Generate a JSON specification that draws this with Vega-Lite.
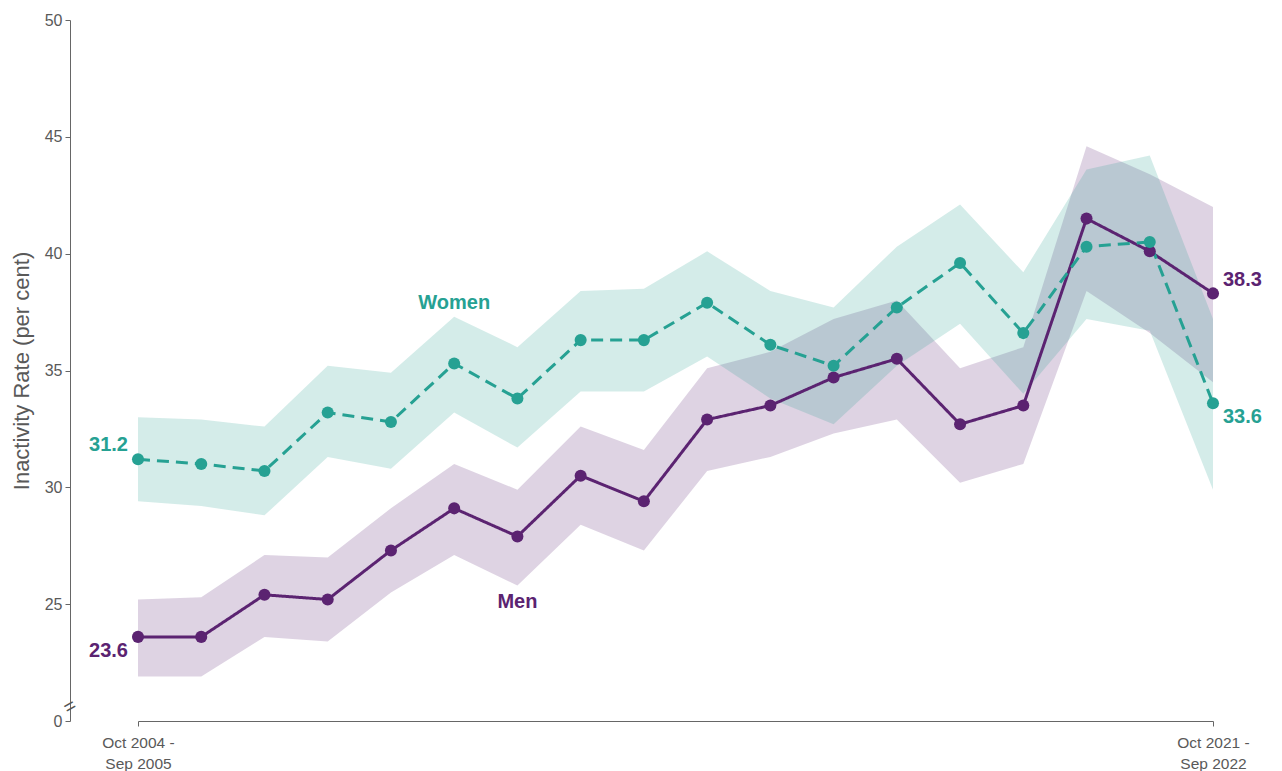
{
  "$schema": "https://vega.github.io/schema/vega-lite/v6.json",
  "width": 1210,
  "height": 701,
  "autosize": {"type": "none"},
  "padding": {"left": 70, "top": 20, "right": 2, "bottom": 50},
  "background": "white",
  "config": {"view": {"stroke": null}, "font": "Liberation Sans"},
  "datasets": {
    "main": [
      {"period": "Oct 2004 - Sep 2005", "series": "Men", "value": 23.6, "lo": 21.9, "hi": 25.2},
      {"period": "Oct 2005 - Sep 2006", "series": "Men", "value": 23.6, "lo": 21.9, "hi": 25.3},
      {"period": "Oct 2006 - Sep 2007", "series": "Men", "value": 25.4, "lo": 23.6, "hi": 27.1},
      {"period": "Oct 2007 - Sep 2008", "series": "Men", "value": 25.2, "lo": 23.4, "hi": 27.0},
      {"period": "Oct 2008 - Sep 2009", "series": "Men", "value": 27.3, "lo": 25.5, "hi": 29.1},
      {"period": "Oct 2009 - Sep 2010", "series": "Men", "value": 29.1, "lo": 27.1, "hi": 31.0},
      {"period": "Oct 2010 - Sep 2011", "series": "Men", "value": 27.9, "lo": 25.8, "hi": 29.9},
      {"period": "Oct 2011 - Sep 2012", "series": "Men", "value": 30.5, "lo": 28.4, "hi": 32.6},
      {"period": "Oct 2012 - Sep 2013", "series": "Men", "value": 29.4, "lo": 27.3, "hi": 31.6},
      {"period": "Oct 2013 - Sep 2014", "series": "Men", "value": 32.9, "lo": 30.7, "hi": 35.1},
      {"period": "Oct 2014 - Sep 2015", "series": "Men", "value": 33.5, "lo": 31.3, "hi": 35.8},
      {"period": "Oct 2015 - Sep 2016", "series": "Men", "value": 34.7, "lo": 32.3, "hi": 37.2},
      {"period": "Oct 2016 - Sep 2017", "series": "Men", "value": 35.5, "lo": 32.9, "hi": 38.0},
      {"period": "Oct 2017 - Sep 2018", "series": "Men", "value": 32.7, "lo": 30.2, "hi": 35.1},
      {"period": "Oct 2018 - Sep 2019", "series": "Men", "value": 33.5, "lo": 31.0, "hi": 36.0},
      {"period": "Oct 2019 - Sep 2020", "series": "Men", "value": 41.5, "lo": 38.4, "hi": 44.6},
      {"period": "Oct 2020 - Sep 2021", "series": "Men", "value": 40.1, "lo": 36.6, "hi": 43.4},
      {"period": "Oct 2021 - Sep 2022", "series": "Men", "value": 38.3, "lo": 34.5, "hi": 42.0},
      {"period": "Oct 2004 - Sep 2005", "series": "Women", "value": 31.2, "lo": 29.4, "hi": 33.0},
      {"period": "Oct 2005 - Sep 2006", "series": "Women", "value": 31.0, "lo": 29.2, "hi": 32.9},
      {"period": "Oct 2006 - Sep 2007", "series": "Women", "value": 30.7, "lo": 28.8, "hi": 32.6},
      {"period": "Oct 2007 - Sep 2008", "series": "Women", "value": 33.2, "lo": 31.3, "hi": 35.2},
      {"period": "Oct 2008 - Sep 2009", "series": "Women", "value": 32.8, "lo": 30.8, "hi": 34.9},
      {"period": "Oct 2009 - Sep 2010", "series": "Women", "value": 35.3, "lo": 33.2, "hi": 37.3},
      {"period": "Oct 2010 - Sep 2011", "series": "Women", "value": 33.8, "lo": 31.7, "hi": 36.0},
      {"period": "Oct 2011 - Sep 2012", "series": "Women", "value": 36.3, "lo": 34.1, "hi": 38.4},
      {"period": "Oct 2012 - Sep 2013", "series": "Women", "value": 36.3, "lo": 34.1, "hi": 38.5},
      {"period": "Oct 2013 - Sep 2014", "series": "Women", "value": 37.9, "lo": 35.6, "hi": 40.1},
      {"period": "Oct 2014 - Sep 2015", "series": "Women", "value": 36.1, "lo": 33.8, "hi": 38.4},
      {"period": "Oct 2015 - Sep 2016", "series": "Women", "value": 35.2, "lo": 32.7, "hi": 37.7},
      {"period": "Oct 2016 - Sep 2017", "series": "Women", "value": 37.7, "lo": 35.2, "hi": 40.3},
      {"period": "Oct 2017 - Sep 2018", "series": "Women", "value": 39.6, "lo": 37.0, "hi": 42.1},
      {"period": "Oct 2018 - Sep 2019", "series": "Women", "value": 36.6, "lo": 34.0, "hi": 39.2},
      {"period": "Oct 2019 - Sep 2020", "series": "Women", "value": 40.3, "lo": 37.2, "hi": 43.6},
      {"period": "Oct 2020 - Sep 2021", "series": "Women", "value": 40.5, "lo": 36.7, "hi": 44.2},
      {"period": "Oct 2021 - Sep 2022", "series": "Women", "value": 33.6, "lo": 29.9, "hi": 37.2}
    ],
    "notes": [
      {"period": "Oct 2009 - Sep 2010", "series": "Women", "value": 37.9, "text": "Women"},
      {"period": "Oct 2010 - Sep 2011", "series": "Men", "value": 25.1, "text": "Men"}
    ],
    "brk": [
      {"period": "Oct 2004 - Sep 2005", "value": 20.6}
    ]
  },
  "data": {"name": "main"},
  "encoding": {
    "x": {
      "field": "period",
      "type": "ordinal",
      "sort": null,
      "scale": {"type": "point", "padding": 0, "range": [68, 1143]},
      "axis": {
        "values": ["Oct 2004 - Sep 2005", "Oct 2021 - Sep 2022"],
        "labelExpr": "[split(datum.label, ' - ')[0] + ' -', split(datum.label, ' - ')[1]]",
        "labelAngle": 0,
        "title": null,
        "grid": false,
        "domainColor": "#666666",
        "tickColor": "#666666",
        "tickSize": 5,
        "labelColor": "#595959",
        "labelFontSize": 15.5,
        "labelLineHeight": 21,
        "labelPadding": 9
      }
    },
    "color": {
      "field": "series",
      "type": "nominal",
      "scale": {"domain": ["Men", "Women"], "range": ["#5b2371", "#26a193"]},
      "legend": null
    }
  },
  "layer": [
    {
      "mark": {"type": "area", "opacity": 0.2},
      "encoding": {
        "y": {
          "field": "lo",
          "type": "quantitative",
          "title": "Inactivity Rate (per cent)",
          "scale": {"domain": [20, 50], "nice": false, "zero": false},
          "axis": {
            "values": [20, 25, 30, 35, 40, 45, 50],
            "labelExpr": "datum.value == 20 ? '0' : datum.label",
            "grid": false,
            "domainColor": "#666666",
            "tickColor": "#666666",
            "tickSize": 5,
            "labelColor": "#595959",
            "labelFontSize": 16,
            "labelPadding": 3,
            "titleColor": "#595959",
            "titleFontSize": 22,
            "titleFontWeight": "normal",
            "titlePadding": 11
          }
        },
        "y2": {"field": "hi"}
      }
    },
    {
      "mark": {"type": "line", "strokeWidth": 3},
      "encoding": {
        "y": {"field": "value", "type": "quantitative", "title": "Inactivity Rate (per cent)"},
        "strokeDash": {
          "field": "series",
          "type": "nominal",
          "scale": {"domain": ["Men", "Women"], "range": [[1, 0], [12, 7]]},
          "legend": null
        }
      }
    },
    {
      "mark": {"type": "point", "filled": true, "opacity": 1, "size": 145},
      "encoding": {
        "y": {"field": "value", "type": "quantitative", "title": "Inactivity Rate (per cent)"}
      }
    },
    {
      "transform": [{"filter": "datum.period == 'Oct 2004 - Sep 2005' && datum.series == 'Women'"}],
      "mark": {"type": "text", "align": "right", "baseline": "middle", "dx": -10, "dy": -14, "fontSize": 20, "fontWeight": "bold"},
      "encoding": {
        "y": {"field": "value", "type": "quantitative", "title": "Inactivity Rate (per cent)"},
        "text": {"field": "value", "type": "quantitative", "format": ".1f"}
      }
    },
    {
      "transform": [{"filter": "datum.period == 'Oct 2004 - Sep 2005' && datum.series == 'Men'"}],
      "mark": {"type": "text", "align": "right", "baseline": "middle", "dx": -10, "dy": 14, "fontSize": 20, "fontWeight": "bold"},
      "encoding": {
        "y": {"field": "value", "type": "quantitative", "title": "Inactivity Rate (per cent)"},
        "text": {"field": "value", "type": "quantitative", "format": ".1f"}
      }
    },
    {
      "transform": [{"filter": "datum.period == 'Oct 2021 - Sep 2022' && datum.series == 'Men'"}],
      "mark": {"type": "text", "align": "left", "baseline": "middle", "dx": 10, "dy": -13, "fontSize": 20, "fontWeight": "bold"},
      "encoding": {
        "y": {"field": "value", "type": "quantitative", "title": "Inactivity Rate (per cent)"},
        "text": {"field": "value", "type": "quantitative", "format": ".1f"}
      }
    },
    {
      "transform": [{"filter": "datum.period == 'Oct 2021 - Sep 2022' && datum.series == 'Women'"}],
      "mark": {"type": "text", "align": "left", "baseline": "middle", "dx": 10, "dy": 14, "fontSize": 20, "fontWeight": "bold"},
      "encoding": {
        "y": {"field": "value", "type": "quantitative", "title": "Inactivity Rate (per cent)"},
        "text": {"field": "value", "type": "quantitative", "format": ".1f"}
      }
    },
    {
      "data": {"name": "notes"},
      "mark": {"type": "text", "align": "center", "baseline": "middle", "fontSize": 20, "fontWeight": "bold"},
      "encoding": {
        "y": {"field": "value", "type": "quantitative", "title": "Inactivity Rate (per cent)"},
        "text": {"field": "text", "type": "nominal"}
      }
    },
    {
      "data": {"name": "brk"},
      "mark": {"type": "text", "text": "=", "angle": -30, "fontSize": 20, "dx": -58.9, "dy": -34, "align": "center", "baseline": "middle"},
      "encoding": {
        "y": {"field": "value", "type": "quantitative", "title": "Inactivity Rate (per cent)"},
        "color": {"value": "#555555"}
      }
    }
  ]
}
